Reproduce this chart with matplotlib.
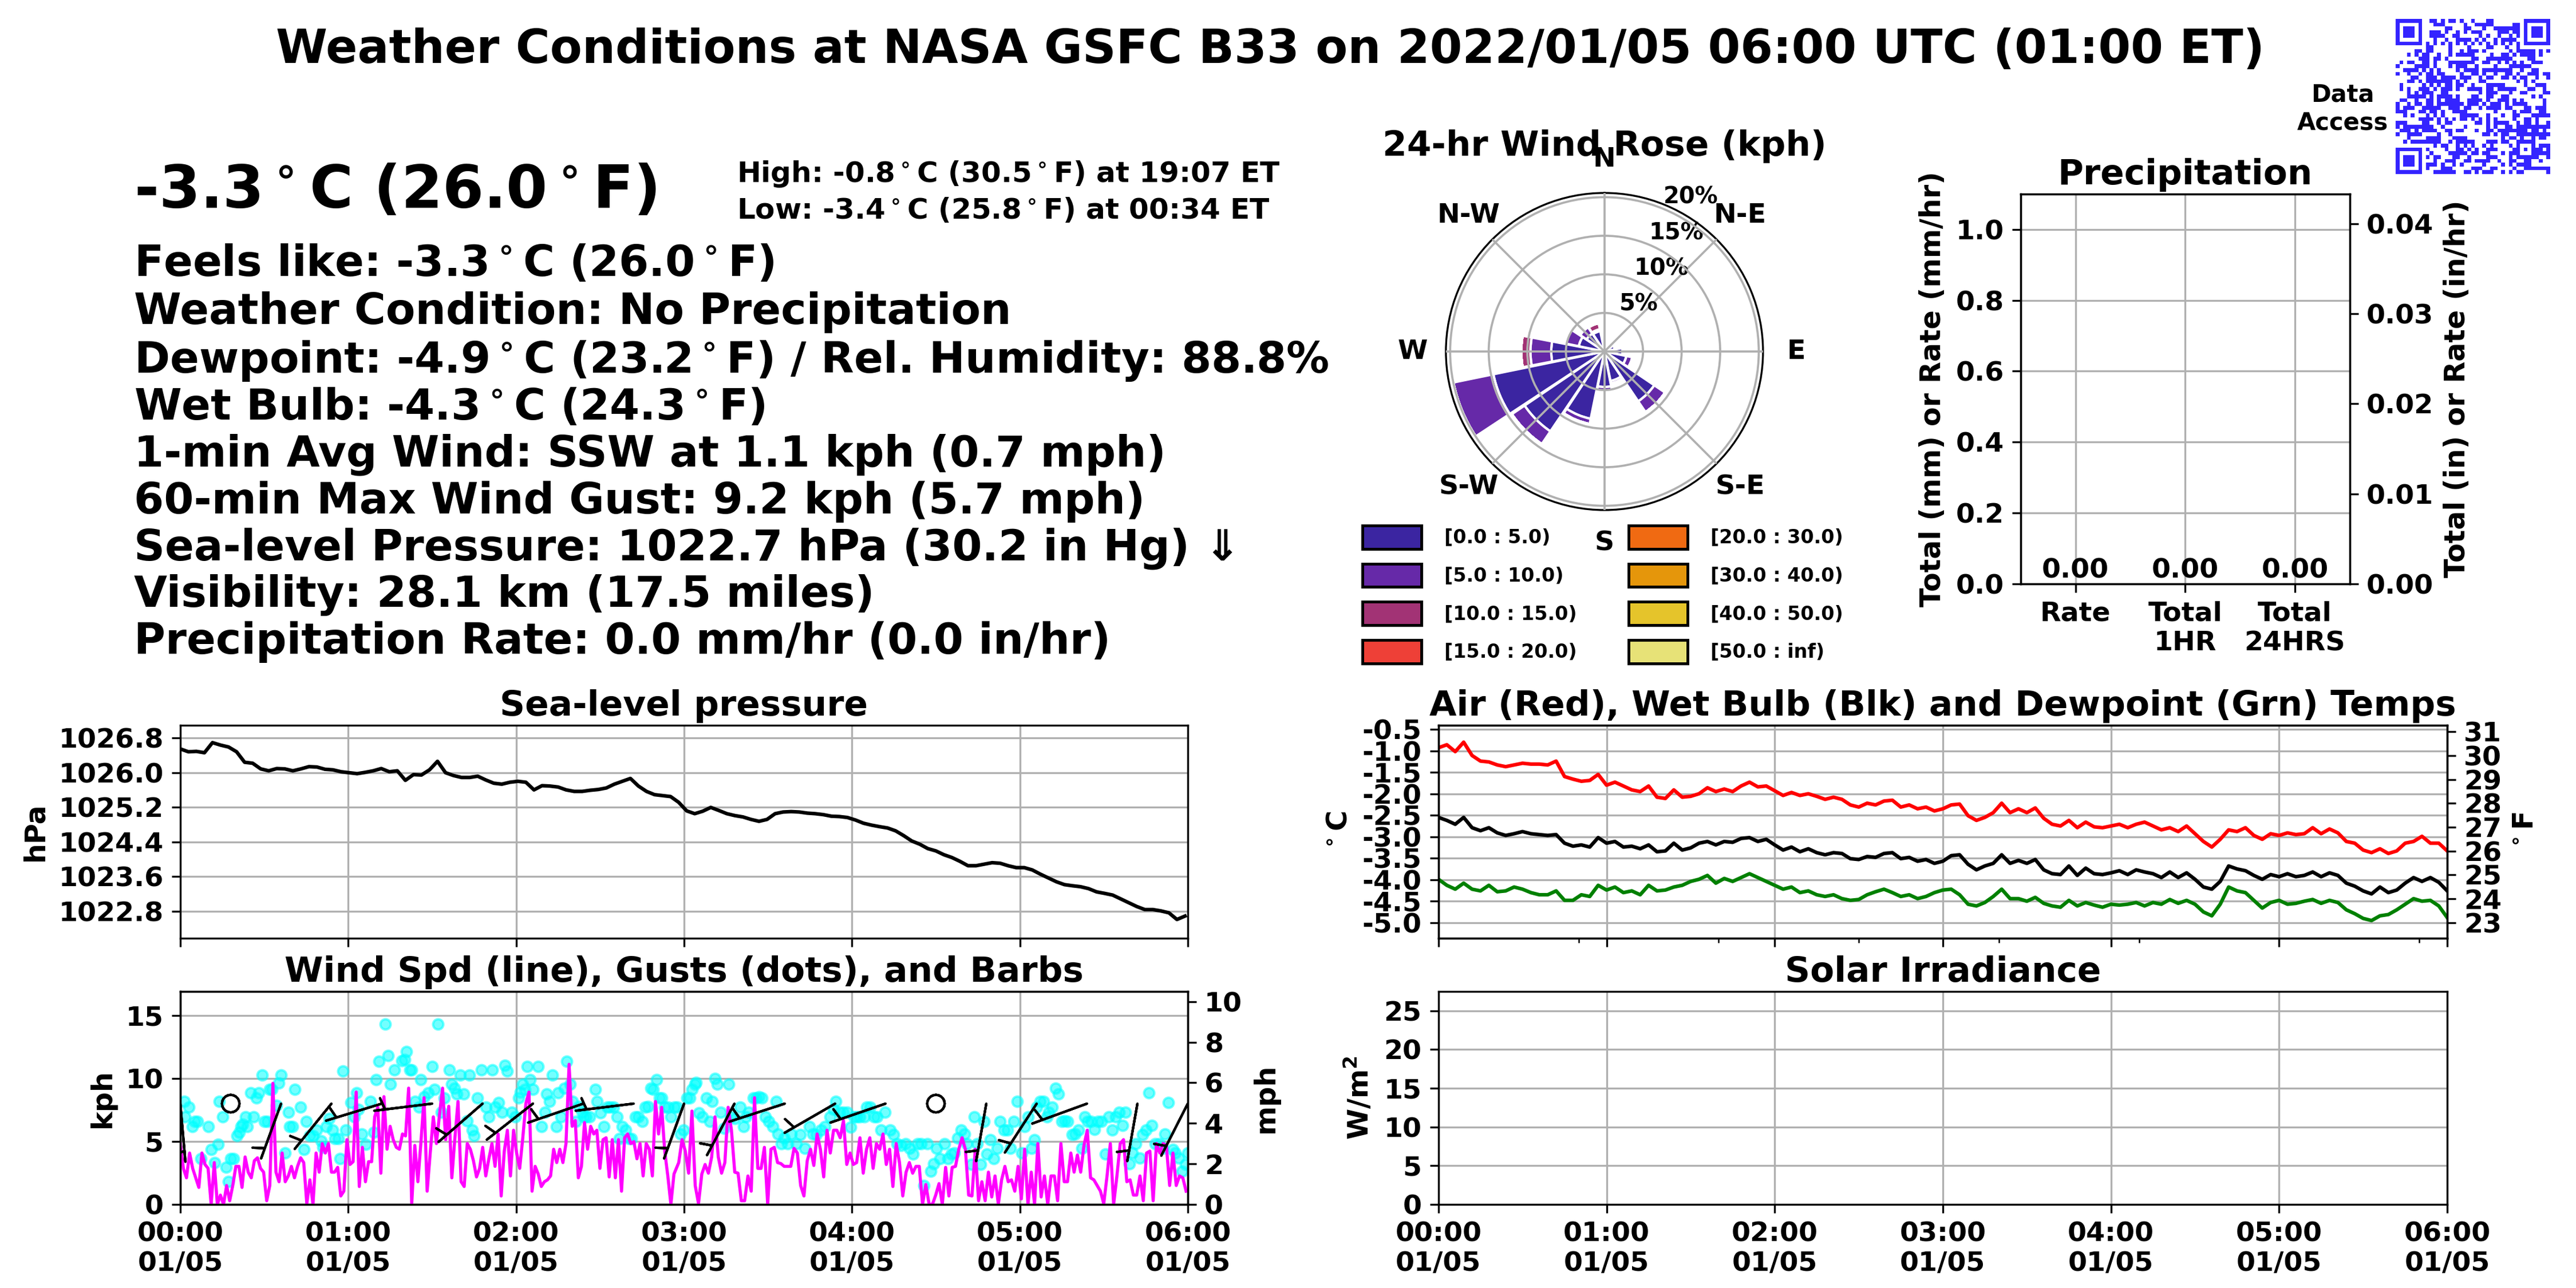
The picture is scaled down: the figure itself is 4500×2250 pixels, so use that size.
import numpy as np
import matplotlib
matplotlib.use("Agg")
import matplotlib.pyplot as plt
import matplotlib.dates as mdates
import matplotlib.ticker as mticker
from matplotlib.patches import Patch
from matplotlib.colors import ListedColormap
from datetime import datetime, timedelta
import hashlib

plt.rcParams['font.family'] = ['DejaVu Sans']
plt.rcParams['font.weight'] = 'bold'
plt.rcParams['axes.titleweight'] = 'bold'
plt.rcParams['axes.labelweight'] = 'bold'
plt.rcParams['xtick.labelsize'] = 11.4
plt.rcParams['ytick.labelsize'] = 11.4
plt.rcParams['axes.labelsize'] = 11.8

# ---------------- header / current conditions ----------------
title_text = "Weather Conditions at NASA GSFC B33 on 2022/01/05 06:00 UTC (01:00 ET)"
temp_c, temp_f = -3.3, 26.0
high_c, high_f, high_time = -0.8, 30.5, "19:07"
low_c, low_f, low_time = -3.4, 25.8, "00:34"
feels_c, feels_f = -3.3, 26.0
condition = "No Precipitation"
dew_now_c, dew_now_f, rel_hum = -4.9, 23.2, 88.8
wet_now_c, wet_now_f = -4.3, 24.3
wind_dir_txt, wind_kph, wind_mph = "SSW", 1.1, 0.7
gust_max_kph, gust_max_mph = 9.2, 5.7
slp_hpa, slp_inhg = 1022.7, 30.2
vis_km, vis_mi = 28.1, 17.5
prate_mm, prate_in = 0.0, 0.0

# ---------------- sea-level pressure (hPa), regular samples 00:00-06:00 ----------------
pres_hpa = [1026.545, 1026.479, 1026.488, 1026.457, 1026.690, 1026.633, 1026.589, 1026.479, 1026.237, 1026.215,
            1026.084, 1026.040, 1026.092, 1026.084, 1026.040, 1026.084, 1026.136, 1026.127, 1026.075, 1026.062,
            1026.018, 1025.996, 1025.974, 1026.004, 1026.040, 1026.092, 1026.018, 1026.040, 1025.820, 1025.952,
            1025.943, 1026.062, 1026.259, 1025.996, 1025.930, 1025.886, 1025.886, 1025.916, 1025.829, 1025.754,
            1025.732, 1025.776, 1025.798, 1025.776, 1025.600, 1025.697, 1025.688, 1025.666, 1025.600, 1025.565,
            1025.565, 1025.591, 1025.609, 1025.644, 1025.732, 1025.798, 1025.864, 1025.688, 1025.565, 1025.490,
            1025.468, 1025.446, 1025.314, 1025.116, 1025.051, 1025.108, 1025.196, 1025.125, 1025.051, 1025.007,
            1024.976, 1024.919, 1024.875, 1024.919, 1025.051, 1025.090, 1025.099, 1025.090, 1025.064, 1025.051,
            1025.029, 1024.993, 1024.985, 1024.963, 1024.905, 1024.831, 1024.787, 1024.752, 1024.721, 1024.655,
            1024.545, 1024.422, 1024.347, 1024.246, 1024.193, 1024.105, 1024.040, 1023.952, 1023.851, 1023.851,
            1023.886, 1023.921, 1023.908, 1023.851, 1023.807, 1023.807, 1023.754, 1023.657, 1023.569, 1023.481,
            1023.415, 1023.389, 1023.367, 1023.323, 1023.248, 1023.213, 1023.174, 1023.086, 1022.998, 1022.910,
            1022.840, 1022.840, 1022.809, 1022.765, 1022.611, 1022.690]
pres_span_min = (0, 359)

# ---------------- temperatures (deg C), regular samples 00:00-06:00 ----------------
air_c = [-0.93, -0.86, -1.02, -0.80, -1.11, -1.24, -1.26, -1.33, -1.37, -1.33,
         -1.29, -1.31, -1.31, -1.33, -1.24, -1.60, -1.66, -1.71, -1.69, -1.55,
         -1.80, -1.73, -1.82, -1.91, -1.95, -1.82, -2.08, -2.11, -1.91, -2.08,
         -2.06, -2.00, -1.86, -1.95, -1.89, -1.95, -1.82, -1.73, -1.84, -1.82,
         -1.93, -2.04, -1.97, -2.04, -2.00, -2.06, -2.13, -2.08, -2.13, -2.26,
         -2.31, -2.22, -2.26, -2.17, -2.15, -2.31, -2.26, -2.35, -2.31, -2.40,
         -2.35, -2.26, -2.24, -2.51, -2.62, -2.55, -2.44, -2.22, -2.44, -2.35,
         -2.44, -2.33, -2.57, -2.71, -2.75, -2.62, -2.79, -2.66, -2.77, -2.79,
         -2.75, -2.71, -2.79, -2.71, -2.66, -2.75, -2.84, -2.79, -2.88, -2.75,
         -2.93, -3.11, -3.24, -3.06, -2.84, -2.88, -2.79, -2.97, -3.06, -2.93,
         -2.97, -2.91, -2.95, -2.93, -2.79, -2.93, -2.82, -2.91, -3.11, -3.15,
         -3.31, -3.37, -3.28, -3.39, -3.33, -3.15, -3.11, -2.99, -3.15, -3.15,
         -3.33]
wet_c = [-2.55, -2.62, -2.71, -2.55, -2.79, -2.86, -2.79, -2.91, -2.97, -2.93,
         -2.88, -2.93, -2.95, -2.97, -2.95, -3.15, -3.22, -3.19, -3.24, -3.02,
         -3.15, -3.11, -3.24, -3.22, -3.28, -3.19, -3.35, -3.33, -3.15, -3.31,
         -3.26, -3.15, -3.11, -3.19, -3.11, -3.13, -3.04, -3.02, -3.11, -3.06,
         -3.19, -3.31, -3.24, -3.35, -3.28, -3.37, -3.42, -3.37, -3.39, -3.51,
         -3.53, -3.46, -3.48, -3.39, -3.37, -3.51, -3.48, -3.57, -3.53, -3.62,
         -3.57, -3.44, -3.42, -3.64, -3.77, -3.68, -3.62, -3.42, -3.62, -3.55,
         -3.62, -3.53, -3.77, -3.86, -3.88, -3.68, -3.90, -3.73, -3.86, -3.88,
         -3.84, -3.79, -3.88, -3.77, -3.82, -3.86, -3.95, -3.82, -3.95, -3.84,
         -3.99, -4.17, -4.22, -4.04, -3.68, -3.75, -3.79, -3.90, -3.99, -3.88,
         -3.93, -3.86, -3.93, -3.90, -3.82, -3.93, -3.84, -3.90, -4.08, -4.15,
         -4.26, -4.33, -4.17, -4.30, -4.24, -4.08, -3.95, -4.04, -3.95, -4.06,
         -4.26]
dew_c = [-3.99, -4.13, -4.22, -4.08, -4.22, -4.26, -4.13, -4.28, -4.26, -4.17,
         -4.22, -4.30, -4.35, -4.35, -4.26, -4.48, -4.48, -4.35, -4.39, -4.13,
         -4.24, -4.17, -4.30, -4.26, -4.35, -4.13, -4.26, -4.24, -4.17, -4.13,
         -4.04, -3.99, -3.90, -4.08, -3.97, -4.04, -3.95, -3.86, -3.95, -4.04,
         -4.13, -4.22, -4.17, -4.30, -4.26, -4.35, -4.39, -4.35, -4.44, -4.48,
         -4.46, -4.35, -4.28, -4.22, -4.30, -4.39, -4.35, -4.44, -4.39, -4.30,
         -4.24, -4.22, -4.35, -4.57, -4.61, -4.53, -4.39, -4.22, -4.44, -4.44,
         -4.50, -4.41, -4.55, -4.61, -4.64, -4.48, -4.61, -4.53, -4.59, -4.64,
         -4.57, -4.59, -4.57, -4.53, -4.61, -4.53, -4.57, -4.46, -4.55, -4.48,
         -4.57, -4.75, -4.84, -4.57, -4.17, -4.26, -4.30, -4.48, -4.66, -4.53,
         -4.48, -4.57, -4.55, -4.50, -4.46, -4.55, -4.48, -4.53, -4.70, -4.79,
         -4.90, -4.95, -4.84, -4.81, -4.70, -4.57, -4.44, -4.50, -4.48, -4.61,
         -4.88]
temp_span_min = (0, 360)

# ---------------- wind speed (kph), two regular runs of samples ----------------
wind1_kph = [4.83, 2.86, 2.11, 4.08, 2.86, 2.11, 1.35, 4.08, 3.17, 2.86,
             0.0, 3.32, 0.0, 0.74, 0.0, 1.50, 0.29, 1.50, 3.02, 3.02,
             1.35, 3.77, 2.56, 2.11, 3.47, 3.70, 2.86, 2.56, 0.29, 1.50,
             9.61, 2.56, 1.80, 4.08, 1.80, 2.26, 3.02, 2.11, 3.02, 3.70,
             3.32, 0.06, 1.95, 0.0, 4.08, 2.56, 4.83, 4.08, 4.83, 2.56,
             2.56, 2.94, 0.67, 1.05, 5.14, 3.17, 3.39, 8.92, 1.42, 4.53,
             1.80, 3.39, 3.39, 6.95, 7.71, 2.48, 8.55, 4.38, 6.20, 5.14,
             4.53, 4.38, 5.59, 5.44, 9.23, 0.0, 4.68, 1.80, 4.98, 8.47,
             1.05, 4.08, 6.95, 4.83, 7.11, 9.23, 5.14, 7.79, 2.11, 5.29,
             8.17, 1.80, 1.42, 4.83, 4.38, 3.47, 2.18, 2.86, 4.53, 2.26,
             3.62, 4.83, 3.02, 5.59, 0.67, 4.23, 5.89, 2.26, 5.89, 4.08,
             2.86, 5.29, 8.02, 8.92, 1.05, 3.02, 2.41, 1.42, 1.80, 1.95,
             2.26, 4.38, 3.32, 4.38, 3.32, 4.83, 11.12, 6.20, 6.65, 2.11,
             3.02, 6.50, 4.38, 6.20, 5.59, 5.89, 2.86, 5.14, 5.29, 2.18,
             5.14, 2.11, 5.14, 1.05, 5.29, 5.59, 4.83, 4.98, 3.62, 4.83,
             2.26, 4.83, 4.38, 2.26, 8.17, 5.59, 7.71, 4.23, 2.26, 0.0,
             2.41]
wind1_span_min = (0.0, 176.4)
wind2_kph = [3.32, 5.14, 4.23, 2.48, 7.41, 1.50, 0.06, 2.41, 3.17, 2.48,
             3.77, 6.95, 3.77, 2.48, 3.32, 7.71, 5.89, 2.56, 2.48, 0.29,
             0.29, 2.26, 1.05, 8.47, 2.86, 2.86, 4.53, 0.0, 4.38, 4.53,
             3.32, 3.24, 3.02, 3.02, 3.02, 4.45, 4.08, 1.50, 0.67, 3.47,
             4.38, 3.09, 5.59, 4.38, 2.18, 5.89, 4.08, 5.89, 5.89, 5.29,
             6.65, 3.17, 4.08, 3.17, 3.32, 5.29, 2.48, 4.38, 5.29, 2.86,
             4.83, 4.38, 5.59, 3.17, 4.38, 1.42, 4.83, 3.32, 0.67, 2.56,
             3.32, 2.48, 3.02, 3.02, 0.0, 1.58, 0.0, 0.0, 0.74, 1.65,
             0.0, 2.94, 0.67, 2.94, 3.02, 4.38, 5.29, 4.38, 0.74, 0.67,
             4.38, 0.29, 1.80, 0.29, 2.56, 0.59, 2.26, 0.0, 1.95, 3.02,
             1.80, 1.95, 1.05, 3.02, 0.44, 4.38, 0.0, 2.56, 0.0, 4.83,
             0.59, 2.26, 0.0, 2.26, 2.26, 0.29, 4.83, 1.80, 1.80, 4.08,
             2.56, 3.92, 2.56, 4.68, 5.89, 2.11, 1.95, 1.50, 1.05, 0.06,
             2.26, 4.83, 0.0, 2.26, 4.83, 5.14, 1.80, 1.95, 0.74, 0.74,
             2.26, 0.29, 4.08, 4.23, 0.29, 4.83, 4.08, 4.83, 4.68, 1.50,
             4.08, 1.50, 2.26, 2.11, 1.05]
wind2_span_min = (178.1, 359.4)

# ---------------- gusts (minute after 00:00 UTC, kph) ----------------
gust_min = [1.4, 1.6, 3.0, 4.2, 5.2, 6.1, 7.3, 10.1, 11.0, 12.2,
            13.4, 14.0, 15.1, 16.3, 17.1, 18.1, 19.0, 20.2, 21.0, 21.6,
            22.2, 23.4, 23.9, 25.1, 26.1, 27.2, 28.1, 29.2, 30.0, 31.0,
            31.9, 32.8, 34.3, 35.1, 36.0, 37.4, 38.6, 39.0, 40.1, 41.0,
            43.0, 44.1, 45.1, 46.3, 47.4, 48.6, 50.4, 51.0, 52.1, 53.1,
            54.5, 55.3, 56.5, 57.1, 58.0, 59.2, 60.9, 62.1, 63.0, 63.6,
            64.8, 66.2, 68.0, 69.2, 70.0, 70.9, 73.3, 74.2, 75.0, 76.5,
            79.1, 80.1, 80.9, 82.1, 82.7, 83.8, 85.2, 85.9, 87.1, 88.5,
            90.1, 90.9, 92.0, 93.2, 94.4, 96.2, 97.0, 97.9, 98.9, 100.0,
            101.2, 102.4, 103.2, 104.4, 105.0, 106.1, 107.5, 109.3, 110.2, 111.4,
            112.6, 113.8, 114.9, 115.9, 116.9, 118.5, 119.6, 120.8, 121.6, 122.3,
            123.2, 124.0, 124.9, 126.1, 127.9, 129.0, 130.2, 131.0, 132.0, 132.9,
            134.3, 135.0, 136.1, 137.3, 138.1, 139.3, 140.2, 141.4, 142.3, 143.5,
            144.3, 145.1, 146.3, 148.2, 149.0, 150.2, 151.3, 152.5, 153.7, 154.9,
            156.0, 156.9, 158.0, 159.2, 160.4, 161.1, 162.7, 163.7, 165.1, 166.0,
            167.2, 168.1, 169.0, 170.1, 171.3, 172.1, 173.1, 174.2, 175.4, 176.6,
            177.5, 178.7, 179.9, 181.1, 182.0, 182.9, 183.9, 184.4, 185.3, 186.5,
            188.0, 189.2, 190.1, 191.1, 191.9, 193.1, 194.3, 195.9, 196.7, 198.3,
            200.0, 201.2, 202.1, 203.1, 204.8, 205.7, 206.7, 207.9, 209.1, 210.3,
            211.7, 212.9, 213.5, 214.7, 215.9, 217.1, 218.3, 220.1, 221.6, 223.1,
            224.9, 226.1, 227.3, 228.8, 230.3, 232.1, 233.3, 234.3, 235.7, 236.9,
            238.4, 239.6, 240.8, 241.7, 242.9, 244.4, 245.3, 246.5, 248.0, 249.0,
            250.4, 251.9, 253.7, 254.9, 256.1, 257.6, 259.2, 260.7, 261.9, 263.4,
            264.6, 265.8, 267.0, 268.2, 269.1, 270.3, 271.5, 273.0, 274.4, 275.6,
            276.6, 277.8, 279.0, 280.2, 281.1, 282.6, 283.8, 284.7, 285.9, 287.1,
            288.3, 289.5, 290.7, 291.9, 292.9, 294.3, 295.5, 296.7, 297.9, 299.1,
            300.6, 301.8, 303.0, 304.2, 305.1, 306.0, 307.2, 308.4, 309.6, 310.4,
            311.6, 312.8, 313.8, 315.0, 316.0, 317.1, 318.6, 319.8, 321.0, 322.2,
            323.1, 324.3, 325.5, 326.7, 327.9, 329.1, 330.6, 331.8, 333.0, 334.2,
            335.4, 336.6, 337.8, 339.2, 340.2, 341.4, 342.8, 343.8, 345.0, 346.2,
            347.1, 348.3, 349.8, 351.0, 351.9, 353.1, 354.6, 355.5, 356.7, 357.9,
            359.1, 360.0]
gust_kph = [8.17, 6.95, 7.71, 6.20, 6.58, 6.58, 3.62, 6.20, 4.38, 3.32,
            4.76, 8.17, 6.95, 2.94, 1.80, 3.62, 3.62, 5.44, 5.74, 6.20,
            6.35, 6.95, 6.20, 8.85, 6.95, 8.47, 8.85, 10.29, 6.58, 6.58,
            9.15, 9.15, 7.86, 9.61, 10.29, 4.08, 7.33, 6.20, 6.20, 9.15,
            7.71, 4.38, 6.58, 5.44, 5.44, 5.89, 5.06, 4.53, 6.20, 6.80,
            5.89, 5.21, 5.21, 3.62, 10.59, 5.89, 8.09, 6.95, 8.85, 7.56,
            5.59, 4.76, 8.17, 5.74, 9.91, 11.35, 14.30, 11.80, 9.53, 10.67,
            11.42, 11.50, 12.11, 10.67, 10.67, 8.17, 7.71, 9.91, 8.55, 8.85,
            10.97, 9.15, 14.30, 7.33, 8.47, 10.67, 9.53, 9.23, 8.77, 10.29,
            8.77, 6.65, 10.29, 5.89, 5.44, 8.47, 10.67, 7.71, 6.95, 10.67,
            7.71, 8.09, 7.33, 11.05, 10.59, 7.33, 6.95, 8.47, 8.92, 9.53,
            9.15, 10.97, 9.91, 9.15, 10.97, 6.20, 7.33, 8.77, 8.17, 10.29,
            6.20, 8.85, 6.95, 9.23, 11.35, 9.53, 8.17, 6.58, 7.79, 7.33,
            6.95, 6.95, 6.95, 9.15, 8.17, 7.26, 6.20, 7.71, 7.71, 7.71,
            6.95, 5.21, 6.20, 5.89, 5.21, 5.21, 6.95, 6.95, 6.58, 7.71,
            7.79, 9.23, 9.15, 9.91, 8.47, 8.47, 7.71, 7.71, 6.95, 7.71,
            7.71, 5.59, 5.89, 8.47, 8.47, 9.15, 9.53, 9.68, 7.26, 6.95,
            8.47, 6.58, 8.17, 9.98, 9.53, 7.33, 6.05, 9.53, 6.95, 6.80,
            7.71, 6.20, 6.95, 7.33, 8.47, 8.47, 8.55, 8.47, 6.95, 6.58,
            6.20, 8.17, 5.59, 4.83, 5.29, 4.83, 5.59, 4.83, 5.52, 4.45,
            6.20, 5.59, 5.52, 5.89, 6.20, 6.95, 7.56, 8.17, 7.33, 7.33,
            7.33, 6.12, 6.95, 6.95, 6.95, 6.95, 7.71, 7.71, 6.95, 6.95,
            5.89, 7.33, 5.89, 5.52, 4.83, 4.68, 4.83, 4.45, 4.00, 4.83,
            4.83, 1.50, 4.83, 2.64, 3.24, 4.45, 3.62, 4.83, 3.62, 4.00,
            4.08, 5.29, 5.89, 5.59, 4.83, 3.17, 6.95, 4.83, 3.17, 6.58,
            4.00, 5.14, 3.62, 4.45, 6.58, 5.89, 5.89, 4.45, 6.58, 8.17,
            4.08, 6.20, 6.95, 4.45, 5.14, 7.71, 8.17, 8.17, 6.95, 7.33,
            7.71, 9.23, 8.77, 6.58, 6.65, 6.58, 5.52, 5.59, 5.89, 4.45,
            6.95, 6.58, 6.58, 5.97, 6.58, 6.58, 4.00, 6.95, 5.89, 6.95,
            7.33, 6.27, 7.33, 3.24, 4.08, 4.83, 3.70, 5.52, 5.89, 8.85,
            6.27, 4.83, 4.83, 4.45, 5.59, 8.09, 4.38, 4.08, 3.70, 2.64,
            3.17, 4.08]

# ---------------- wind barbs (every 18 min) ----------------
barb_min = [0, 18, 36, 54, 72, 90, 108, 126, 144, 162, 180, 198, 216, 234, 252, 270, 288, 306, 324, 342, 360]
barb_kph = [4, 0, 4, 4, 4, 5, 4, 4, 5, 5, 4, 4, 4, 5, 5, 0, 4, 4, 4, 4, 4]
barb_dir = [175, 0, 200, 219, 253, 263, 229, 232, 251, 263, 200, 208, 252, 240, 251, 0, 190, 213, 250, 190, 207]
barb_level_kph = 8.0

# ---------------- 24-hr wind rose (% of time) ----------------
rose_dirs_deg = [0, 22.5, 45, 67.5, 90, 112.5, 135, 157.5, 180, 202.5, 225, 247.5, 270, 292.5, 315, 337.5]
rose_bin_labels = ["[0.0 : 5.0)", "[5.0 : 10.0)", "[10.0 : 15.0)", "[15.0 : 20.0)",
                   "[20.0 : 30.0)", "[30.0 : 40.0)", "[40.0 : 50.0)", "[50.0 : inf)"]
rose_bin0 = [0, 0, 0, 1.4, 2.35, 2.9, 7.8, 3.9, 4.6, 8.9, 12.5, 14.7, 6.9, 3.4, 2.8, 2.7]
rose_bin1 = [0, 0, 0, 0, 0, 0.8, 1.7, 0.35, 0.6, 0.7, 2.0, 5.3, 2.7, 1.7, 1.0, 0.25]
rose_bin2 = [0, 0, 0, 0, 0, 0, 0, 0, 0, 0, 0, 0, 1.2, 0, 0.3, 0.8]
rose_bin_other = [0] * 16
rose_colors = ['#3b25a1', '#6629a8', '#a23375', '#ee4037', '#f06a12', '#e5960b', '#e5c42b', '#e7e277']

# ---------------- precipitation ----------------
precip_labels = ["Rate", "Total\n1HR", "Total\n24HRS"]
precip_mm = [0.0, 0.0, 0.0]

# ---------------- helpers ----------------
base = datetime(2022, 1, 5, 0, 0)
t_start, t_end = base, base + timedelta(hours=6)


def to_num(mins):
    return mdates.date2num([base + timedelta(minutes=float(m)) for m in mins])


deg = r'$^\circ$'

fig = plt.figure(figsize=(15, 7.5), dpi=300)

# ---------------- text block ----------------
fig.text(0.493, 0.951, title_text, ha='center', va='baseline', fontsize=19.6)
fig.text(0.052, 0.8387, f"{temp_c:.1f}{deg}C ({temp_f:.1f}{deg}F)", fontsize=24.9, va='baseline')
fig.text(0.2859, 0.8587, f"High: {high_c:.1f}{deg}C ({high_f:.1f}{deg}F) at {high_time} ET", fontsize=12.0, va='baseline')
fig.text(0.2859, 0.8304, f"Low: {low_c:.1f}{deg}C ({low_f:.1f}{deg}F) at {low_time} ET", fontsize=12.0, va='baseline')
info_lines = [
    f"Feels like: {feels_c:.1f}{deg}C ({feels_f:.1f}{deg}F)",
    f"Weather Condition: {condition}",
    f"Dewpoint: {dew_now_c:.1f}{deg}C ({dew_now_f:.1f}{deg}F) / Rel. Humidity: {rel_hum:.1f}%",
    f"Wet Bulb: {wet_now_c:.1f}{deg}C ({wet_now_f:.1f}{deg}F)",
    f"1-min Avg Wind: {wind_dir_txt} at {wind_kph:.1f} kph ({wind_mph:.1f} mph)",
    f"60-min Max Wind Gust: {gust_max_kph:.1f} kph ({gust_max_mph:.1f} mph)",
    f"Sea-level Pressure: {slp_hpa:.1f} hPa ({slp_inhg:.1f} in Hg) \u21d3",
    f"Visibility: {vis_km:.1f} km ({vis_mi:.1f} miles)",
    f"Precipitation Rate: {prate_mm:.1f} mm/hr ({prate_in:.1f} in/hr)",
]
line_y = [0.7860, 0.7484, 0.7107, 0.6742, 0.6378, 0.6013, 0.5651, 0.5289, 0.4924]
for s, yy in zip(info_lines, line_y):
    fig.text(0.052, yy, s, fontsize=18, va='baseline')

fig.text(0.9271, 0.9156, "Data\nAccess", ha='right', va='center', multialignment='center', fontsize=10)

# ---------------- QR code image ----------------
n = 41
h = b''
seed = b'https://gmao.gsfc.nasa.gov/B33/weather'
while len(h) * 8 < n * n:
    seed = hashlib.sha256(seed).digest()
    h += seed
qr = np.unpackbits(np.frombuffer(h, dtype=np.uint8))[:n * n].reshape(n, n).astype(int)
qr[0:8, 0:8] = 0
qr[0:8, n - 8:] = 0
qr[n - 8:, 0:8] = 0
for (r, c) in [(0, 0), (0, n - 7), (n - 7, 0)]:
    qr[r:r + 7, c:c + 7] = 1
    qr[r + 1:r + 6, c + 1:c + 6] = 0
    qr[r + 2:r + 5, c + 2:c + 5] = 1
qr[6, 8:n - 8] = (np.arange(8, n - 8) % 2 == 0)
qr[8:n - 8, 6] = (np.arange(8, n - 8) % 2 == 0)
qr[32:37, 32:37] = 1
qr[33:36, 33:36] = 0
qr[34, 34] = 1
ax_qr = fig.add_axes([0.93, 0.8649, 0.06, 0.1204])
ax_qr.imshow(qr, cmap=ListedColormap(['white', '#3424ff']), interpolation='nearest', aspect='auto')
ax_qr.axis('off')

# ---------------- axes ----------------
ax_p = fig.add_axes([0.0700, 0.2716, 0.3911, 0.1653])
ax_w = fig.add_axes([0.0700, 0.0649, 0.3911, 0.1653])
ax_t = fig.add_axes([0.5584, 0.2716, 0.3916, 0.1653])
ax_s = fig.add_axes([0.5584, 0.0649, 0.3916, 0.1653])
ax_pr = fig.add_axes([0.7844, 0.5467, 0.1278, 0.3027])
ax_r = fig.add_axes([0.5613, 0.604, 0.1231, 0.2462], projection='polar')


def time_axis(ax, labels):
    ax.set_xlim(t_start, t_end)
    ax.xaxis.set_major_locator(mdates.HourLocator())
    ax.xaxis.set_major_formatter(mdates.DateFormatter('%H:%M\n%m/%d'))
    ax.tick_params(axis='x', labelbottom=labels)
    ax.grid(True)


# pressure
pt = to_num(np.linspace(pres_span_min[0], pres_span_min[1], len(pres_hpa)))
ax_p.plot(pt, pres_hpa, color='black', lw=1.5)
time_axis(ax_p, False)
ax_p.set_ylim(1022.18, 1027.09)
ax_p.set_yticks([1022.8, 1023.6, 1024.4, 1025.2, 1026.0, 1026.8])
ax_p.yaxis.set_major_formatter(mticker.FormatStrFormatter('%.1f'))
ax_p.set_ylabel('hPa')
ax_p.set_title('Sea-level pressure', fontsize=14.7, pad=4)

# wind
w1t = to_num(np.linspace(wind1_span_min[0], wind1_span_min[1], len(wind1_kph)))
w2t = to_num(np.linspace(wind2_span_min[0], wind2_span_min[1], len(wind2_kph)))
ax_w.plot(np.concatenate([w1t, w2t]), wind1_kph + wind2_kph, color='magenta', lw=1.3, zorder=3)
ax_w.plot(to_num(gust_min), gust_kph, 'o', color='cyan', alpha=0.55, markersize=4.3, zorder=2)
bt = to_num(barb_min)
bs = np.array(barb_kph, dtype=float)
bd = np.deg2rad(np.array(barb_dir, dtype=float))
ax_w.barbs(bt, np.full(len(bt), barb_level_kph), -bs * np.sin(bd), -bs * np.cos(bd),
           length=7, linewidth=1.0, color='black', zorder=5)
time_axis(ax_w, True)
ax_w.set_ylim(0, 16.9)
ax_w.set_yticks([0, 5, 10, 15])
ax_w.set_ylabel('kph')
ax_w.set_title('Wind Spd (line), Gusts (dots), and Barbs', fontsize=14.7, pad=4)
ax_w2 = ax_w.twinx()
ax_w2.set_ylim(0, 16.9 / 1.60934)
ax_w2.set_yticks([0, 2, 4, 6, 8, 10])
ax_w2.set_ylabel('mph')

# temperatures
tt = to_num(np.linspace(temp_span_min[0], temp_span_min[1], len(air_c)))
ax_t.plot(tt, air_c, color='red', lw=1.5)
ax_t.plot(tt, wet_c, color='black', lw=1.5)
ax_t.plot(tt, dew_c, color='green', lw=1.5)
time_axis(ax_t, False)
ax_t.xaxis.set_minor_locator(mticker.FixedLocator(to_num([50, 100, 150, 200, 250, 300, 350])))
cmin, cmax = -5.36, -0.407
ax_t.set_ylim(cmin, cmax)
ax_t.set_yticks(np.arange(-5.0, -0.49, 0.5))
ax_t.yaxis.set_major_formatter(mticker.FormatStrFormatter('%.1f'))
ax_t.set_ylabel(f'{deg}C')
ax_t.set_title('Air (Red), Wet Bulb (Blk) and Dewpoint (Grn) Temps', fontsize=14.7, pad=4)
ax_t2 = ax_t.twinx()
ax_t2.set_ylim(cmin * 9 / 5 + 32, cmax * 9 / 5 + 32)
ax_t2.set_yticks(range(23, 32))
ax_t2.set_ylabel(f'{deg}F')

# solar
time_axis(ax_s, True)
ax_s.set_ylim(0, 27.5)
ax_s.set_yticks([0, 5, 10, 15, 20, 25])
ax_s.set_ylabel('W/m$^2$')
ax_s.set_title('Solar Irradiance', fontsize=14.7, pad=4)

# precipitation
ax_pr.bar(range(len(precip_mm)), precip_mm, color='#1f77b4')
ax_pr.set_xticks(range(len(precip_mm)))
ax_pr.set_xticklabels(precip_labels)
ax_pr.set_xlim(-0.5, 2.5)
ax_pr.set_ylim(0, 1.1)
ax_pr.set_yticks([0, 0.2, 0.4, 0.6, 0.8, 1.0])
ax_pr.yaxis.set_major_formatter(mticker.FormatStrFormatter('%.1f'))
ax_pr.grid(True)
ax_pr.set_ylabel('Total (mm) or Rate (mm/hr)')
ax_pr.set_title('Precipitation', fontsize=14.7, pad=4)
for i, v in enumerate(precip_mm):
    ax_pr.text(i, v, f'{v:.2f}', ha='center', va='bottom', fontsize=11.4)
ax_pr2 = ax_pr.twinx()
ax_pr2.set_ylim(0, 1.1 / 25.4)
ax_pr2.set_yticks([0, 0.01, 0.02, 0.03, 0.04])
ax_pr2.yaxis.set_major_formatter(mticker.FormatStrFormatter('%.2f'))
ax_pr2.set_ylabel('Total (in) or Rate (in/hr)')

# wind rose
ax_r.set_theta_zero_location('N')
ax_r.set_theta_direction(-1)
theta = np.deg2rad(rose_dirs_deg)
width = np.deg2rad(22.5) * 0.97
bottom = np.zeros(len(theta))
rose_bins = [rose_bin0, rose_bin1, rose_bin2] + [rose_bin_other] * 5
for vals, c in zip(rose_bins, rose_colors):
    vals = np.array(vals, dtype=float)
    ax_r.bar(theta, vals, width=width, bottom=bottom, color=c, edgecolor='white', linewidth=1.0, zorder=1)
    bottom += vals
ax_r.set_axisbelow(False)
ax_r.set_ylim(0, 20.55)
ax_r.set_rgrids([5, 10, 15, 20], labels=['5%', '10%', '15%', '20%'], angle=22.5, fontsize=9.6)
ax_r.set_thetagrids(range(0, 360, 45), labels=['N', 'N-E', 'E', 'S-E', 'S', 'S-W', 'W', 'N-W'], fontsize=11.4)
ax_r.tick_params(axis='x', pad=3.5)
ax_r.grid(True, color='#b0b0b0', lw=0.9)
fig.text(0.6229, 0.8791, '24-hr Wind Rose (kph)', ha='center', va='baseline', fontsize=14.7)

handles = [Patch(facecolor=c, edgecolor='black', linewidth=1.2) for c in rose_colors]
fig.legend(handles, rose_bin_labels, ncol=2, loc='upper left', bbox_to_anchor=(0.5289, 0.592),
           frameon=False, fontsize=8, handlelength=3.1, handleheight=1.5, handletextpad=1.2,
           columnspacing=2.7, labelspacing=0.78, borderpad=0, borderaxespad=0)

fig.savefig('out.png', dpi=300)
